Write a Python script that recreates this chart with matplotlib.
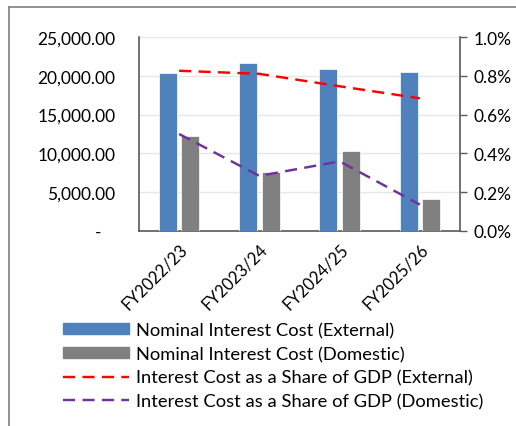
import matplotlib
matplotlib.use('Agg')
import matplotlib.pyplot as plt
import numpy as np
from matplotlib.lines import Line2D
from matplotlib.patches import Patch

plt.rcParams['font.family'] = ['Lato', 'DejaVu Sans']

# data
years = ["FY2022/23", "FY2023/24", "FY2024/25", "FY2025/26"]
nominal_external = [20360, 21690, 20840, 20450]
nominal_domestic = [12280, 7640, 10310, 4120]
share_external = [0.826, 0.81, 0.746, 0.684]   # % of GDP
share_domestic = [0.50, 0.284, 0.359, 0.136]

c_blue = '#4f81bd'
c_gray = '#808080'
c_red = '#ff0000'
c_purple = '#7030a0'
c_axis = '#595959'

fig = plt.figure(figsize=(5.16, 4.27), dpi=100)
ax = fig.add_axes([139/516, 1-232/427, (460-139)/516, (232-38)/427])
ax2 = ax.twinx()

x = np.arange(len(years))
w = 0.225
ax.bar(x - 0.14, nominal_external, w, color=c_blue, edgecolor='white', linewidth=0.5, zorder=3)
ax.bar(x + 0.14, nominal_domestic, w, color=c_gray, edgecolor='white', linewidth=0.5, zorder=3)

ax2.plot(x, share_external, color=c_red, lw=1.75, dashes=(5, 3))
ax2.plot(x, share_domestic, color=c_purple, lw=1.75, dashes=(5, 3))

ax.set_xlim(-0.5, len(years) - 0.5)
ax.set_ylim(0, 25000)
ax2.set_ylim(0, 1.0)

yt = np.arange(0, 25001, 5000)
ax.set_yticks(yt)
ax.set_yticklabels(['-   ' if v == 0 else f"{v:,.2f}" for v in yt], fontsize=12.5)
ax.grid(axis='y', color='#e6e6e6', lw=1, zorder=0)
ax.set_axisbelow(True)

ax2.set_yticks(np.arange(0, 1.01, 0.2))
ax2.set_yticklabels([f"{v:.1f}%" for v in np.arange(0, 1.01, 0.2)], fontsize=12.5)

ax.set_xticks(x)
ax.set_xticklabels(years, rotation=45, ha='right', rotation_mode='anchor', fontsize=12)
ax.tick_params(axis='x', length=0, pad=7)
ax.tick_params(axis='y', length=0, pad=17)
ax2.tick_params(axis='y', length=5, width=1, color=c_axis, pad=5)

for a in (ax, ax2):
    a.spines['top'].set_visible(False)
    for s in ('left', 'right', 'bottom'):
        a.spines[s].set_color(c_axis)
        a.spines[s].set_linewidth(1.2)
ax.spines['right'].set_visible(False)
ax2.spines['left'].set_visible(False)
ax2.spines['bottom'].set_visible(False)

# legend below the plot
handles = [
    Patch(color=c_blue),
    Patch(color=c_gray),
    Line2D([], [], color=c_red, lw=1.75, dashes=(5, 3)),
    Line2D([], [], color=c_purple, lw=1.75, dashes=(5, 3)),
]
labels = [
    "Nominal Interest Cost (External)",
    "Nominal Interest Cost (Domestic)",
    "Interest Cost as a Share of GDP (External)",
    "Interest Cost as a Share of GDP (Domestic)",
]
fig.legend(handles, labels, loc='upper left', bbox_to_anchor=(63/516, 1-323/427),
           frameon=False, fontsize=13.2, handlelength=3.6, handletextpad=0.4,
           handleheight=0.6, labelspacing=0.42, borderpad=0, borderaxespad=0)

# chart area border (cropped at right and bottom)
fig.add_artist(Line2D([9/516, 9/516], [0, 1-8/427], color='#7f7f7f', lw=1.2))
fig.add_artist(Line2D([9/516, 1], [1-8/427, 1-8/427], color='#7f7f7f', lw=1.2))

fig.savefig('out.png', dpi=100)
